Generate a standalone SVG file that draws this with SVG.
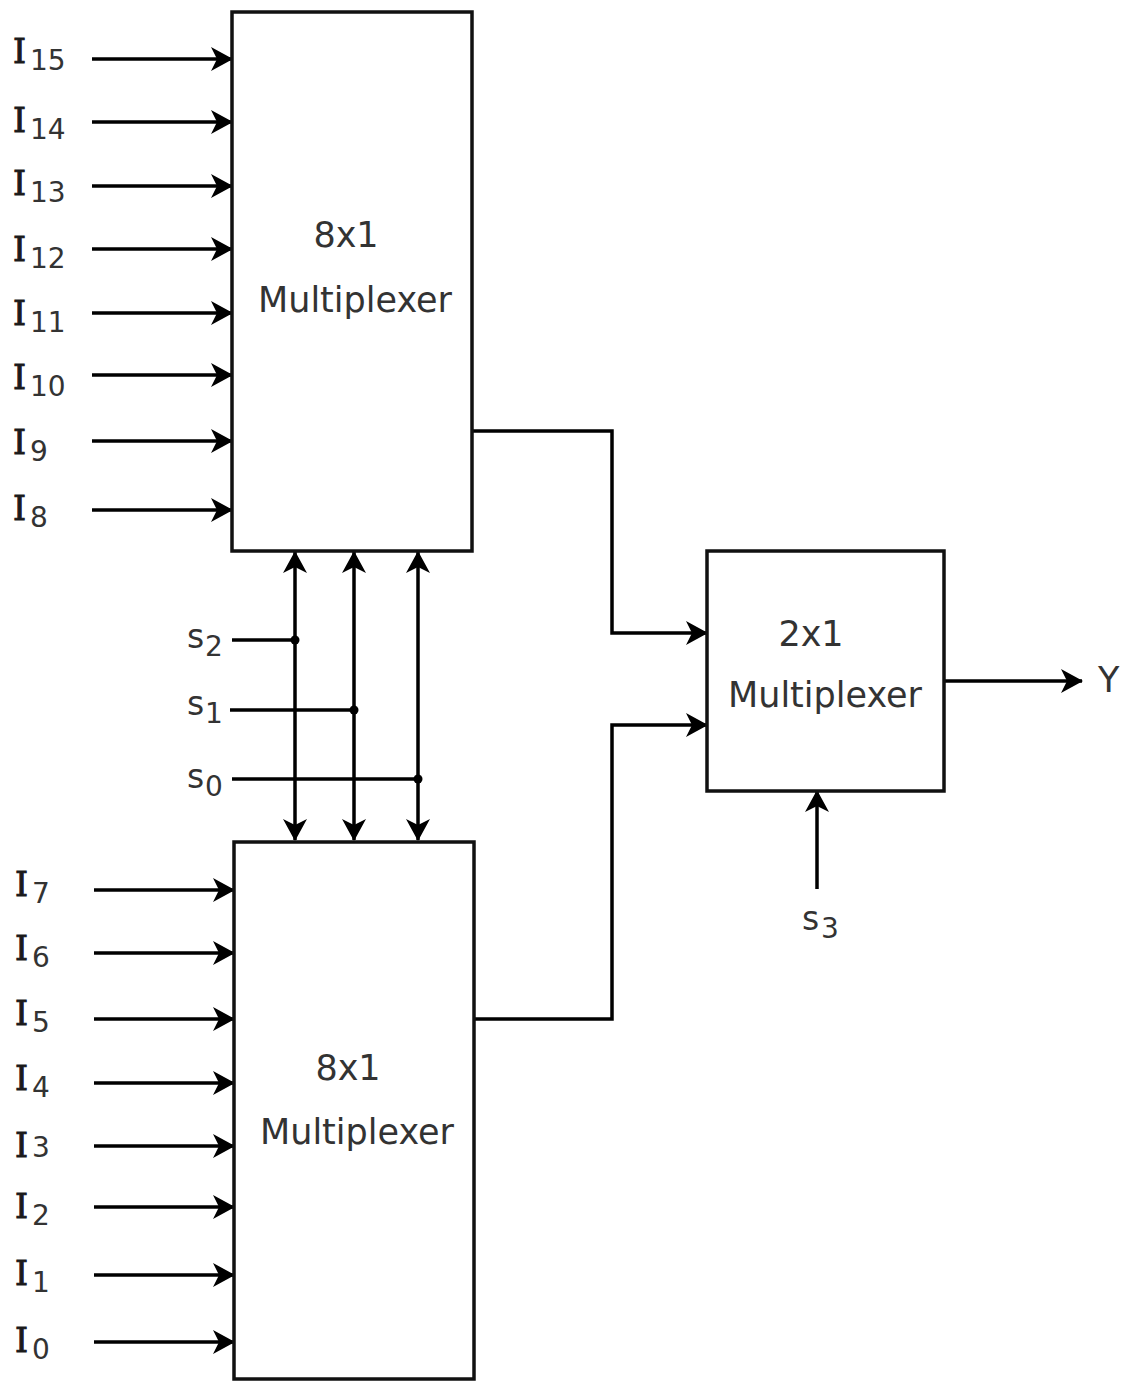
<svg xmlns="http://www.w3.org/2000/svg" width="1130" height="1383" viewBox="0 0 1130 1383">
<style>
.box{fill:#fff;stroke:#111;stroke-width:3.5}
.w{fill:none;stroke:#000;stroke-width:3.5}
.a{fill:none;stroke:#000;stroke-width:3.5;marker-end:url(#arr)}
.d{fill:none;stroke:#000;stroke-width:3.5;marker-start:url(#arr);marker-end:url(#arr)}
.t{font-family:"DejaVu Sans","Liberation Sans",sans-serif;font-size:35px;fill:#333}
.I{font-family:"DejaVu Serif","Liberation Serif",serif;font-size:33px;fill:#1a1a1a;stroke:#1a1a1a;stroke-width:1}
.s{font-family:"DejaVu Sans","Liberation Sans",sans-serif;font-size:33px;fill:#333}
.sub{font-family:"DejaVu Sans","Liberation Sans",sans-serif;font-size:28px;fill:#333}
</style>
<defs>
<marker id="arr" viewBox="0 0 22 24" refX="21" refY="12" markerWidth="22" markerHeight="24" markerUnits="userSpaceOnUse" orient="auto-start-reverse">
<path d="M22,12 L0,0 L6,12 L0,24 Z" fill="#000"/>
</marker>
</defs>
<rect width="1130" height="1383" fill="#fff"/>

<g id="connectors">
<line class="a" x1="92" y1="59" x2="232" y2="59"/>
<line class="a" x1="92" y1="122" x2="232" y2="122"/>
<line class="a" x1="92" y1="186" x2="232" y2="186"/>
<line class="a" x1="92" y1="249" x2="232" y2="249"/>
<line class="a" x1="92" y1="313" x2="232" y2="313"/>
<line class="a" x1="92" y1="375" x2="232" y2="375"/>
<line class="a" x1="92" y1="441" x2="232" y2="441"/>
<line class="a" x1="92" y1="510" x2="232" y2="510"/>
<line class="a" x1="94" y1="890" x2="234" y2="890"/>
<line class="a" x1="94" y1="953" x2="234" y2="953"/>
<line class="a" x1="94" y1="1019" x2="234" y2="1019"/>
<line class="a" x1="94" y1="1083" x2="234" y2="1083"/>
<line class="a" x1="94" y1="1146" x2="234" y2="1146"/>
<line class="a" x1="94" y1="1207" x2="234" y2="1207"/>
<line class="a" x1="94" y1="1275" x2="234" y2="1275"/>
<line class="a" x1="94" y1="1342" x2="234" y2="1342"/>
<line class="d" x1="295" y1="552" x2="295" y2="840"/>
<line class="d" x1="354" y1="552" x2="354" y2="840"/>
<line class="d" x1="418" y1="552" x2="418" y2="840"/>
<line class="w" x1="232" y1="640" x2="295" y2="640"/>
<line class="w" x1="230" y1="710" x2="354" y2="710"/>
<line class="w" x1="232" y1="779" x2="418" y2="779"/>
<circle cx="295" cy="640" r="4.5" fill="#000"/>
<circle cx="354" cy="710" r="4.5" fill="#000"/>
<circle cx="418" cy="779" r="4.5" fill="#000"/>
<polyline class="a" points="472,431 612,431 612,633 707,633"/>
<polyline class="a" points="474,1019 612,1019 612,725 707,725"/>
<line class="a" x1="944" y1="681" x2="1082" y2="681"/>
<line class="a" x1="817" y1="889" x2="817" y2="791"/>
</g>

<g id="mux-top">
<rect class="box" x="232" y="12" width="240" height="539"/>
<text class="t" x="346" y="247" text-anchor="middle">8x1</text>
<text class="t" x="258" y="312">Multiplexer</text>
</g>

<g id="mux-bottom">
<rect class="box" x="234" y="842" width="240" height="537"/>
<text class="t" x="348" y="1080" text-anchor="middle">8x1</text>
<text class="t" x="260" y="1144">Multiplexer</text>
</g>

<g id="mux-2x1">
<rect class="box" x="707" y="551" width="237" height="240"/>
<text class="t" x="811" y="646" text-anchor="middle">2x1</text>
<text class="t" x="728" y="707">Multiplexer</text>
</g>

<g id="input-labels">
<text class="I" x="13" y="63">I</text><text class="sub" x="30" y="70">15</text>
<text class="I" x="13" y="132">I</text><text class="sub" x="30" y="139">14</text>
<text class="I" x="13" y="195">I</text><text class="sub" x="30" y="202">13</text>
<text class="I" x="13" y="261">I</text><text class="sub" x="30" y="268">12</text>
<text class="I" x="13" y="325">I</text><text class="sub" x="30" y="332">11</text>
<text class="I" x="13" y="389">I</text><text class="sub" x="30" y="396">10</text>
<text class="I" x="13" y="454">I</text><text class="sub" x="30" y="461">9</text>
<text class="I" x="13" y="520">I</text><text class="sub" x="30" y="527">8</text>

<text class="I" x="15" y="896">I</text><text class="sub" x="32" y="903">7</text>
<text class="I" x="15" y="960">I</text><text class="sub" x="32" y="967">6</text>
<text class="I" x="15" y="1025">I</text><text class="sub" x="32" y="1032">5</text>
<text class="I" x="15" y="1090">I</text><text class="sub" x="32" y="1097">4</text>
<text class="I" x="15" y="1157">I</text><text class="sub" x="32" y="1157">3</text>
<text class="I" x="15" y="1218">I</text><text class="sub" x="32" y="1225">2</text>
<text class="I" x="15" y="1285">I</text><text class="sub" x="32" y="1292">1</text>
<text class="I" x="15" y="1352">I</text><text class="sub" x="32" y="1359">0</text>
</g>

<g id="select-labels">
<text class="s" x="187" y="648">s</text><text class="sub" x="205" y="656">2</text>
<text class="s" x="187" y="715">s</text><text class="sub" x="205" y="723">1</text>
<text class="s" x="187" y="788">s</text><text class="sub" x="205" y="796">0</text>
<text class="s" x="802" y="930">s</text><text class="sub" x="821" y="938">3</text>
</g>

<g id="output-label">
<text class="t" x="1098" y="692">Y</text>
</g>
</svg>
